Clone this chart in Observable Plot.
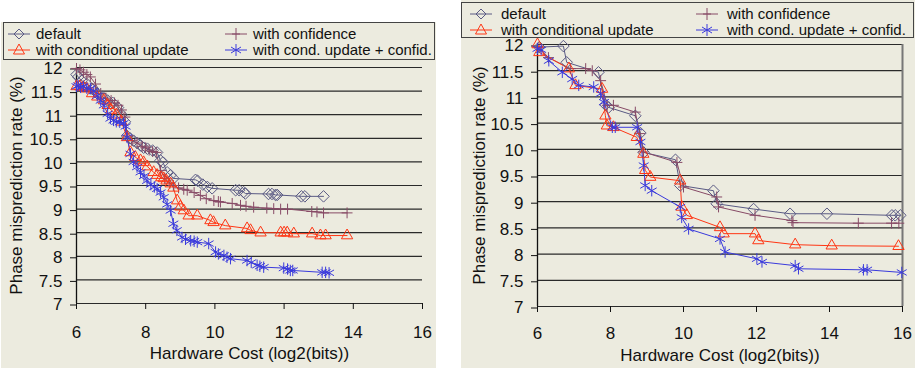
<!DOCTYPE html>
<html><head><meta charset="utf-8">
<script src="https://cdn.jsdelivr.net/npm/d3@7"></script>
<script src="https://cdn.jsdelivr.net/npm/@observablehq/plot@0.6"></script>
<style>
body{margin:0;background:#fff;width:918px;height:371px;position:relative;overflow:hidden;font-family:"Liberation Sans",Arial,sans-serif;}
.panel{position:absolute;background:#ecebdf;}
.legend{position:absolute;border:1px solid #444;box-sizing:border-box;}
.item{position:absolute;font-size:15px;color:#111;white-space:nowrap;line-height:14px;}
.item svg{position:absolute;overflow:visible;}
.chart{position:absolute;}
</style></head><body>
<div class="panel" style="left:1px;top:22px;width:435px;height:346px"></div>
<div class="panel" style="left:461px;top:0px;width:454px;height:368px"></div>
<div id="legL" class="legend" style="left:3px;top:22px;width:432px;height:38px"></div>
<div id="legR" class="legend" style="left:461px;top:2px;width:453px;height:36px"></div>
<div id="chartL" class="chart" style="left:0px;top:60px"></div>
<div id="chartR" class="chart" style="left:463px;top:38px"></div>
<script>
// ---- labels / ticks ----
const seriesNames = ["default", "with confidence", "with conditional update", "with cond. update + confid."];
const xTicks = [6, 8, 10, 12, 14, 16];
const yTicks = [7, 7.5, 8, 8.5, 9, 9.5, 10, 10.5, 11, 11.5, 12];
const xLabel = "Hardware Cost (log2(bits))";
const yLabel = "Phase misprediction rate (%)";

// ---- left panel ----
const leftDefaultX = [6.0,6.05,6.15,6.3,6.45,6.6,6.75,6.9,7.05,7.2,7.3,7.4,7.46,7.55,7.65,7.75,7.85,7.94,8.05,8.2,8.33,8.43,8.5,8.62,8.72,8.8,9.44,9.5,9.65,9.78,9.92,10.6,10.7,10.83,10.88,11.55,11.65,11.75,11.8,12.5,12.6,13.14];
const leftDefaultY = [11.85,11.8,11.72,11.65,11.55,11.45,11.38,11.3,11.25,11.15,11.0,10.85,10.55,10.5,10.45,10.4,10.35,10.3,10.28,10.24,10.2,10.03,9.99,9.78,9.72,9.65,9.62,9.6,9.52,9.47,9.44,9.4,9.4,9.36,9.33,9.32,9.32,9.3,9.3,9.27,9.27,9.27];
const leftConfX = [6.0,6.1,6.2,6.3,6.4,6.55,6.7,6.85,7.0,7.1,7.2,7.3,7.4,7.47,7.6,7.75,7.9,8.0,8.1,8.2,8.3,8.43,8.55,8.7,8.8,8.95,9.1,9.2,9.4,9.58,9.75,9.97,10.1,10.16,10.5,10.74,10.9,11.12,11.5,11.7,11.9,12.1,12.8,12.95,13.14,13.82];
const leftConfY = [11.98,11.95,11.9,11.85,11.8,11.65,11.45,11.35,11.3,11.25,11.2,11.1,10.95,10.55,10.45,10.4,10.33,10.3,10.25,10.22,10.2,9.82,9.65,9.55,9.5,9.45,9.42,9.4,9.35,9.29,9.22,9.18,9.16,9.15,9.12,9.08,9.06,9.04,9.02,9.01,9.0,9.0,8.95,8.94,8.92,8.92];
const leftCondX = [6.0,6.1,6.2,6.3,6.45,6.6,6.79,6.9,7.0,7.15,7.3,7.46,7.56,7.7,7.85,7.94,8.05,8.23,8.33,8.45,8.52,8.6,8.72,8.8,8.91,9.0,9.1,9.24,9.49,9.87,9.96,10.3,10.93,11.03,11.32,11.9,12.0,12.09,12.28,12.81,13.05,13.2,13.82];
const leftCondY = [11.6,11.6,11.58,11.55,11.45,11.38,11.3,11.2,11.1,11.0,10.85,10.52,10.2,10.1,10.03,9.99,9.9,9.78,9.72,9.67,9.65,9.6,9.54,9.45,9.18,9.05,8.97,8.86,8.86,8.76,8.72,8.65,8.59,8.55,8.5,8.5,8.5,8.5,8.48,8.48,8.44,8.44,8.44];
const leftBothX = [6.0,6.05,6.12,6.2,6.3,6.4,6.5,6.6,6.7,6.79,6.9,6.98,7.07,7.15,7.25,7.36,7.42,7.46,7.56,7.65,7.75,7.85,7.95,8.04,8.15,8.25,8.33,8.43,8.52,8.62,8.72,8.8,8.9,9.05,9.15,9.3,9.4,9.49,9.82,10.02,10.1,10.26,10.35,10.45,10.93,11.05,11.22,11.3,11.41,11.99,12.1,12.18,12.25,13.1,13.2,13.3];
const leftBothY = [11.6,11.62,11.58,11.6,11.56,11.55,11.5,11.4,11.3,11.2,11.02,10.92,10.88,10.85,10.84,10.82,10.75,10.52,10.17,10.0,9.89,9.78,9.7,9.6,9.52,9.47,9.43,9.35,9.25,9.1,8.97,8.69,8.55,8.4,8.36,8.33,8.32,8.3,8.27,8.09,8.05,8.02,7.98,7.95,7.91,7.87,7.81,7.79,7.77,7.75,7.73,7.7,7.7,7.66,7.66,7.65];

// ---- right panel ----
const rightDefaultX = [6.05,6.71,6.8,7.67,7.86,7.95,8.68,8.82,8.91,9.78,9.91,10.82,10.91,11.92,12.92,13.93,15.71,15.8,15.94];
const rightDefaultY = [11.95,11.97,11.66,11.47,10.85,10.8,10.64,10.31,9.94,9.8,9.31,9.21,8.96,8.86,8.77,8.77,8.74,8.74,8.74];
const rightConfX = [6.04,6.3,6.9,7.32,7.5,7.73,7.91,8.08,8.68,8.8,8.9,9.82,10.0,10.91,10.96,11.96,12.97,13.0,14.79,15.7,15.9];
const rightConfY = [11.95,11.75,11.54,11.54,11.5,11.31,10.84,10.84,10.71,10.3,9.95,9.75,9.28,9.09,8.9,8.74,8.64,8.6,8.59,8.59,8.59];
const rightCondX = [6.0,6.05,6.86,7.04,7.77,7.86,7.9,8.08,8.72,8.9,8.95,9.09,9.91,9.95,10.09,11.0,11.1,11.96,12.05,13.06,14.06,15.89];
const rightCondY = [12.0,11.85,11.54,11.22,11.15,10.64,10.45,10.42,10.23,9.91,9.6,9.47,9.4,8.9,8.74,8.51,8.39,8.39,8.26,8.18,8.16,8.15];
const rightBothX = [6.0,6.1,6.31,6.68,6.95,7.13,7.54,7.73,7.82,8.05,8.13,8.73,8.82,8.91,8.95,9.13,9.91,9.95,10.14,11.0,11.14,12.01,12.15,13.06,13.15,14.93,15.03,15.98];
const rightBothY = [11.92,11.9,11.69,11.47,11.34,11.22,11.19,11.06,10.9,10.42,10.42,10.42,10.14,9.69,9.31,9.21,8.9,8.7,8.48,8.29,8.04,7.91,7.85,7.78,7.72,7.7,7.7,7.65];

// ---- styling ----
const colors = ["#5a5a84", "#874a66", "#ff3614", "#3a3adc"];
const symbols = ["diamond2", "plus", "triangle2", "asterisk"];
const radii = [5.2, 3.6, 5.4, 5.4];

const zip = (xs, ys) => xs.map((x, i) => ({x, y: ys[i]}));

function chart(series, opt) {
  const marks = [
    Plot.ruleY(yTicks, {stroke: "#2a2a2a", strokeWidth: 1.2}),
    Plot.ruleX([6], {stroke: "#111", strokeWidth: 1.3}),
    Plot.axisY({ticks: yTicks, tickSize: 6, tickPadding: 8, dy: 1.5, tickFormat: d => String(d),
      label: yLabel, labelAnchor: "center", labelArrow: "none", labelOffset: opt.yLabelOffset}),
    Plot.axisX({ticks: xTicks, tickSize: 6, tickPadding: opt.xPad, tickFormat: d => String(d),
      label: xLabel, labelAnchor: "center", labelArrow: "none", labelOffset: opt.xLabelOffset})
  ];
  if (opt.rightRule) marks.push(Plot.ruleX([16], {stroke: "#777", strokeWidth: 2}));
  series.forEach((d, i) => {
    marks.push(Plot.line(d, {x: "x", y: "y", stroke: colors[i], strokeWidth: 1}));
  });
  series.forEach((d, i) => {
    marks.push(Plot.dot(d, {x: "x", y: "y", symbol: symbols[i], r: radii[i], stroke: colors[i], fill: "none", strokeWidth: 1}));
  });
  return Plot.plot({
    width: opt.width, height: opt.height,
    marginLeft: opt.ml, marginRight: opt.mr, marginTop: opt.mt, marginBottom: opt.mb,
    style: {background: "transparent", fontFamily: "'Liberation Sans', Arial, sans-serif", fontSize: "17px", color: "#111", overflow: "visible"},
    x: {domain: [6, 16]},
    y: {domain: [7, 12]},
    marks
  });
}

const left = [zip(leftDefaultX, leftDefaultY), zip(leftConfX, leftConfY), zip(leftCondX, leftCondY), zip(leftBothX, leftBothY)];
const right = [zip(rightDefaultX, rightDefaultY), zip(rightConfX, rightConfY), zip(rightCondX, rightCondY), zip(rightBothX, rightBothY)];

document.getElementById("chartL").append(chart(left, {width: 436, height: 308, ml: 76, mr: 14, mt: 7, mb: 65, yLabelOffset: 67, xLabelOffset: 55, xPad: 16}));
document.getElementById("chartR").append(chart(right, {width: 452, height: 330, ml: 74, mr: 13, mt: 6, mb: 62, yLabelOffset: 65, xLabelOffset: 54, xPad: 14, rightRule: true}));

// ---- legends ----
const glyph = [
  "M0,-5L5,0L0,5L-5,0Z",
  "M0,-6V6M-4,0H4",
  "M0,-6L5.5,4L-5.5,4Z",
  "M0,-6V6M-5,-3L5,3M-5,3L5,-3"
];
function legend(id, pos) {
  const box = document.getElementById(id);
  seriesNames.forEach((name, i) => {
    const col = i === 0 || i === 2 ? 0 : 1;
    const row = i < 2 ? 0 : 1;
    const it = document.createElement("div");
    it.className = "item";
    it.style.left = pos.mx[col] + "px";
    it.style.top = (pos.rows[row] - 7) + "px";
    it.innerHTML = `<svg width="1" height="1" style="left:0;top:7px"><path d="M-11,0H11" stroke="${colors[i]}" stroke-width="1"/><path d="${glyph[i]}" stroke="${colors[i]}" fill="none" stroke-width="1"/></svg><span style="position:absolute;left:${pos.tx}px;top:0">${name}</span>`;
    box.append(it);
  });
}
legend("legL", {mx: [15, 232], rows: [11, 27], tx: 17});
legend("legR", {mx: [19, 245], rows: [11, 27], tx: 20});
</script>
</body></html>
